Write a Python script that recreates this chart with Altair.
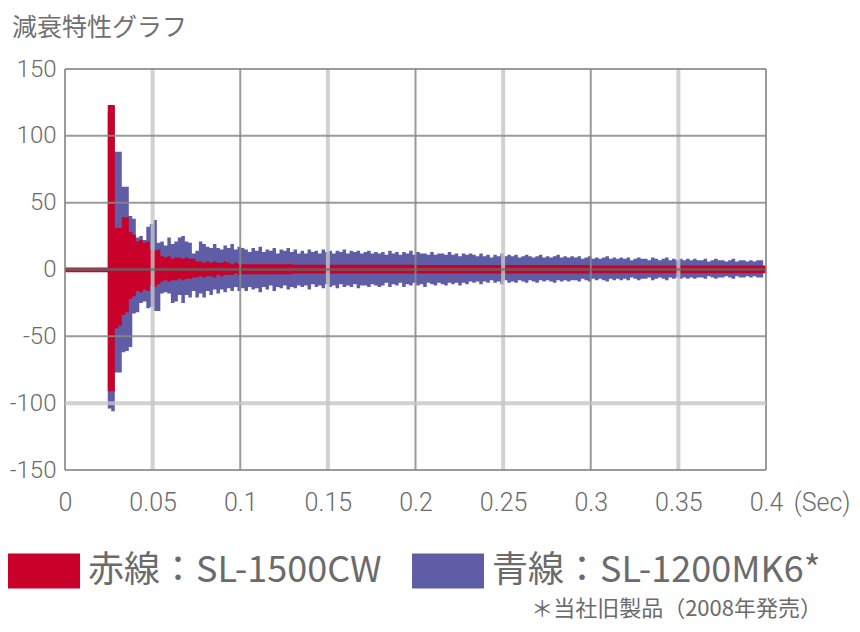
import altair as alt
import pandas as pd

# ---------------- data ----------------
TITLE = "減衰特性グラフ"
LBL_RED = "赤線：SL-1500CW"
LBL_BLUE = "青線：SL-1200MK6*"
NOTE = "＊当社旧製品（2008年発売）"
RED = "#C8002A"
BLUE = "#5F5DA6"

x_ticks = [0, 0.05, 0.1, 0.15, 0.2, 0.25, 0.3, 0.35, 0.4]
y_ticks = [150, 100, 50, 0, -50, -100, -150]

grid_dark_x = [0, 0.1, 0.2, 0.3, 0.4]
grid_light_x = [0.05, 0.15, 0.25, 0.35]
grid_dark_y = [150, 100, 50, -50, -150]
grid_light_y = [-100]
zero_y = [0]

onset = 0.0244   # seconds, start of the impulse
step = 0.002     # sample spacing of the envelope read-out

# blue (SL-1200MK6) envelope, upper / lower, one value per step
blue_up = [118, 122, 88, 88, 62, 62, 40, 38, 24, 25,
           22, 32, 34, 37, 20, 21, 18, 24, 19, 21,
           24, 25, 21, 20, 12, 14, 21, 19, 17, 16,
           19, 16, 15, 18, 16, 19, 15, 17, 16,
           15, 13, 16, 14, 17, 13, 15, 14, 16, 12, 15, 14, 16, 13, 15, 12,
           14, 12, 15, 13, 14, 12, 15, 13, 14, 12, 14, 13, 15, 12, 14, 13, 14, 12, 13, 14, 12, 13, 12,
           13, 11, 14, 12, 13, 11, 13, 12, 14, 11, 13, 12, 12, 11, 13, 11, 12, 12, 11, 13, 11, 12, 10, 12, 11, 12,
           11, 10, 12, 10, 11, 9, 11, 10, 12, 10, 11, 10, 11, 9, 10, 11, 10, 9, 10, 11, 9, 10, 9, 10, 11, 9, 10, 9, 10,
           9, 10, 8, 9, 10, 8, 9, 8, 9, 10, 8, 9, 8, 9, 8, 9, 7, 8, 9, 8,
           8, 7, 9, 8, 7, 8, 9, 7, 8, 7, 8, 7, 8, 7, 8, 7, 7, 8, 6, 7,
           8, 7, 7, 6, 7, 8, 6, 7, 7, 6, 7, 6, 7, 7]
blue_lo = [-104, -106, -77, -77, -62, -61, -58, -33, -32, -25,
           -24, -29, -28, -31, -31, -18, -17, -18, -25, -24,
           -19, -25, -19, -21, -16, -21, -18, -21, -16, -19,
           -15, -18, -15, -17, -14, -16, -13, -16, -14,
           -16, -13, -15, -14, -17, -13, -15, -12, -16, -13, -14, -12, -15, -13, -14, -12,
           -13, -12, -15, -11, -13, -12, -14, -11, -13, -12, -14, -11, -13, -12, -13, -11, -14, -12, -12, -13, -11, -12, -13,
           -12, -10, -13, -11, -12, -10, -13, -11, -12, -10, -12, -11, -13, -10, -11, -12, -10, -11, -12, -10, -11, -10, -12, -10, -11, -9,
           -10, -9, -11, -9, -10, -8, -10, -9, -11, -8, -10, -9, -10, -8, -9, -10, -8, -9, -10, -8, -9, -8, -9, -10, -8, -9, -8, -9, -8,
           -8, -9, -7, -8, -9, -7, -8, -7, -8, -9, -7, -8, -7, -8, -7, -8, -6, -7, -8, -7,
           -7, -6, -8, -7, -6, -7, -8, -6, -7, -6, -7, -6, -7, -6, -7, -6, -6, -7, -5, -6,
           -7, -6, -6, -5, -6, -7, -5, -6, -6, -5, -6, -5, -6, -6]

# red (SL-1500CW) envelope
red_pre_up = [1.5]       # before the impulse (t = 0 .. onset)
red_pre_lo = [-2]
red_up = [123, 123, 31, 31, 39, 39, 28, 26, 21, 22, 20, 21, 15, 14, 15,
          10, 9, 10, 8, 9, 9, 8, 9, 8, 8, 6, 6, 5, 6, 5, 6, 5, 5, 6, 5, 4, 5, 4]
red_lo = [-91, -91, -44, -42, -34, -32, -22, -20, -16, -17, -15, -16, -12, -13, -11,
          -9, -8, -9, -8, -8, -7, -8, -7, -7, -6, -6, -5, -6, -5, -5, -6, -4, -5, -4, -4, -4, -3, -4]
red_tail_t = [0.1004, 0.13, 0.2, 0.3]
red_tail_up = [4, 3.5, 3.3, 3]
red_tail_lo = [-3.5, -3, -3, -2.8]
t_end = 0.4

# ---------------- tables ----------------
rows_blue = []
for i, (u, l) in enumerate(zip(blue_up, blue_lo)):
    rows_blue.append({"t": round(onset + step * i, 5), "val": u, "lo": l, "series": LBL_BLUE})
rows_blue.append({"t": round(onset + step * len(blue_up), 5), "val": blue_up[-1], "lo": blue_lo[-1], "series": LBL_BLUE})
df_blue = pd.DataFrame(rows_blue)

rows_red = [{"t": 0.0, "val": red_pre_up[0], "lo": red_pre_lo[0], "series": LBL_RED}]
for i, (u, l) in enumerate(zip(red_up, red_lo)):
    rows_red.append({"t": round(onset + step * i, 5), "val": u, "lo": l, "series": LBL_RED})
for t, u, l in zip(red_tail_t, red_tail_up, red_tail_lo):
    rows_red.append({"t": t, "val": u, "lo": l, "series": LBL_RED})
rows_red.append({"t": t_end, "val": red_tail_up[-1], "lo": red_tail_lo[-1], "series": LBL_RED})
df_red = pd.DataFrame(rows_red)

NUM_FONT = "Roboto"
JP_FONT = "Noto Sans CJK JP"
TXT = "#6b6b6b"

X = alt.X("t:Q", scale=alt.Scale(domain=[0, 0.4], nice=False, zero=False),
          axis=alt.Axis(values=x_ticks, format="~g", title="(Sec)", grid=False, domain=False,
                        ticks=False, tickSize=0, labelPadding=32, labelBaseline="middle",
                        labelFont=NUM_FONT, labelFontSize=25, labelFontWeight=300, labelColor=TXT,
                        titleFont=NUM_FONT, titleFontSize=25, titleColor=TXT, titleFontWeight=300,
                        titleX=785, titleY=32, titleAlign="right", titleBaseline="middle",
                        labelFlush=False, labelOverlap=False))
Y = alt.Y("val:Q", scale=alt.Scale(domain=[-150, 150], nice=False),
          axis=alt.Axis(values=y_ticks, labelExpr="'' + datum.value", title=None, grid=False,
                        domain=False, ticks=False, tickSize=0, labelPadding=9,
                        labelFont=NUM_FONT, labelFontSize=24, labelFontWeight=300, labelColor=TXT,
                        labelAlign="right", labelBaseline="middle", labelFlush=False,
                        labelOverlap=False))

color = alt.Color("series:N",
                  scale=alt.Scale(domain=[LBL_RED, LBL_BLUE], range=[RED, BLUE]),
                  legend=alt.Legend(title=None, orient="none", legendX=-57, legendY=466,
                                    direction="horizontal",
                                    symbolType="M-1,-0.486H1V0.486H-1Z", symbolSize=5184,
                                    symbolStrokeWidth=0, symbolOpacity=1,
                                    labelFont=JP_FONT, labelFontSize=36, labelColor=TXT,
                                    labelLimit=600, labelOffset=8, columnPadding=30,
                                    padding=0))

blue_area = alt.Chart(df_blue).mark_area(interpolate="step-after", opacity=1).encode(
    x=X, y=Y, y2="lo:Q", color=color)
red_area = alt.Chart(df_red).mark_area(interpolate="step-after", opacity=1).encode(
    x=X, y=Y, y2="lo:Q", color=color)

GL = "#c6c6c6"
GD = "#8a8a8a"
v_light = alt.Chart(pd.DataFrame({"t": grid_light_x})).mark_rule(color=GL, strokeWidth=4, opacity=0.8).encode(x=X)
v_dark = alt.Chart(pd.DataFrame({"t": grid_dark_x})).mark_rule(color=GD, strokeWidth=2, opacity=0.85).encode(x=X)
h_light = alt.Chart(pd.DataFrame({"val": grid_light_y})).mark_rule(color=GL, strokeWidth=4, opacity=0.8).encode(y=Y)
h_dark = alt.Chart(pd.DataFrame({"val": grid_dark_y})).mark_rule(color=GD, strokeWidth=2, opacity=0.85).encode(y=Y)
h_zero = alt.Chart(pd.DataFrame({"val": zero_y})).mark_rule(color="#6a6a6a", strokeWidth=3, opacity=0.65).encode(y=Y)

note_txt = alt.Chart(pd.DataFrame({"s": [NOTE]})).mark_text(
    align="right", baseline="middle", font=JP_FONT, fontSize=22, color=TXT).encode(
    x=alt.value(757), y=alt.value(540), text="s:N")

chart = alt.layer(blue_area, red_area, v_light, v_dark, h_light, h_dark, h_zero,
                  note_txt).properties(
    width=701, height=401,
    title=alt.TitleParams(TITLE, anchor="start", frame="group", dx=-53, offset=16,
                          font=JP_FONT, fontSize=25, fontWeight="normal", color="#707070"),
    autosize=alt.AutoSizeParams(type="none"),
    padding={"left": 57, "top": 61, "right": 86, "bottom": 152},
    background="white",
).configure_view(stroke=None)

chart.save("out.html", embed_options={"renderer": "svg", "actions": False})
